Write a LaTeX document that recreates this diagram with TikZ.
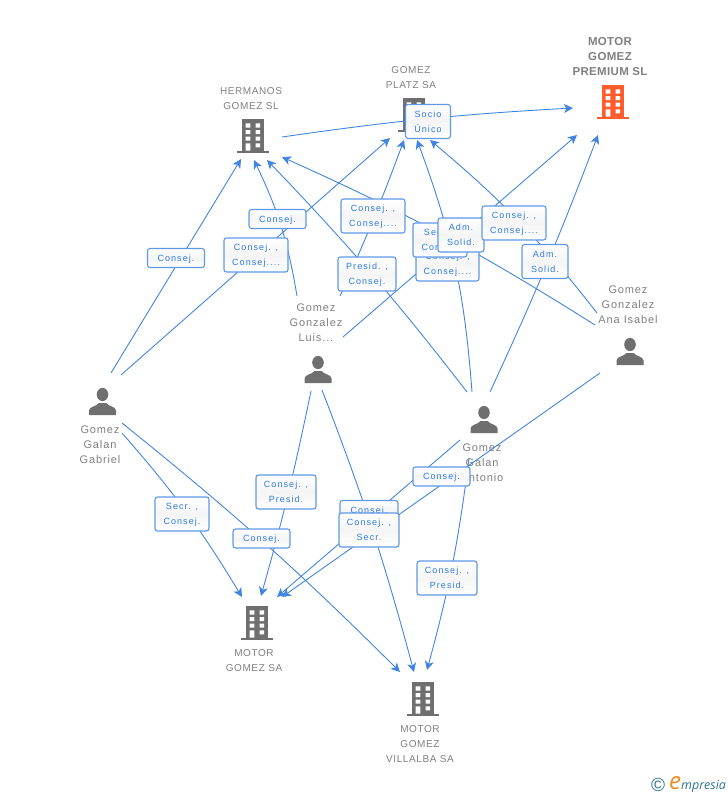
\documentclass[tikz,border=0pt]{standalone}
\usepackage{fontspec}
\setmainfont{Liberation Sans}
\newfontfamily\lblfont[LetterSpace=12]{Liberation Sans}
\newfontfamily\namefont[LetterSpace=8]{Liberation Sans}
\newfontfamily\upfont[LetterSpace=6]{Liberation Sans}
\newfontfamily\upbold[LetterSpace=3]{Liberation Sans Bold}
\newfontfamily\logofont{Open Sans Italic}
\usetikzlibrary{arrows.meta}
\definecolor{edgeblue}{HTML}{4285E0}
\definecolor{boxblue}{HTML}{5E98E8}
\definecolor{lbltext}{HTML}{2E7BE6}
\definecolor{nametext}{HTML}{7F7F7F}
\definecolor{icongray}{HTML}{6F6F6F}
\definecolor{iconorange}{HTML}{FF5C2E}
\definecolor{logoteal}{HTML}{2F7390}
\definecolor{logoorange}{HTML}{F28A1E}
\tikzset{
  x=1pt,y=-1pt,
  edge/.style={draw=edgeblue,line width=0.9pt,-{Stealth[length=9pt,width=9pt,inset=2.5pt]}},
  lbl/.style={draw=boxblue,line width=1.1pt,rounded corners=2.5pt,top color=white,bottom color=white,middle color=white!96!black,
    font=\lblfont\fontsize{9}{15}\selectfont,text=lbltext,align=center,inner sep=0pt,text depth=0pt,minimum height=#1},
  lbl/.default=34pt,
  entity/.style={inner sep=0pt,minimum size=2pt},
  nm/.style={font=\namefont\fontsize{11}{15}\selectfont,text=nametext,align=center,inner sep=0pt},
  co/.style={font=\upfont\fontsize{10}{15}\selectfont,text=nametext,align=center,inner sep=0pt},
  pics/building/.style={code={
    \fill[#1] (-11,-17) rectangle (11,14.5);
    \fill[#1] (-16,14.5) rectangle (16,17);
    \fill[white] (-7.3,-12.7) rectangle (-2.7,-8.3) (2.7,-12.7) rectangle (7.1,-8.3)
      (-7.3,-6) rectangle (-2.7,-2) (2.7,-6) rectangle (7.1,-2)
      (-7.3,0.7) rectangle (-2.7,4.7) (2.7,0.7) rectangle (7.1,4.7)
      (-7.3,7.3) rectangle (-2.7,14.5) (2.7,7.3) rectangle (7.1,11.3);
  }},
  pics/person/.style={code={
    \fill[icongray] (0,-7) ellipse (5.8 and 6.6);
    \fill[icongray] (-13.5,13.5) -- (-13.5,9) .. controls (-13.5,5) and (-6,5) .. (-3.5,1.5) -- (3.5,1.5)
      .. controls (6,5) and (13.5,5) .. (13.5,9) -- (13.5,13.5) -- cycle;
  }},
}
\begin{document}
\begin{tikzpicture}
\useasboundingbox (0,0) rectangle (728,795);
% entities
\node[entity] (hermanos) at (253,136) {};
\node[entity] (platz) at (414,115) {};
\node[entity] (premium) at (613,102) {};
\node[entity] (mgs) at (257,623) {};
\node[entity] (villalba) at (423,699) {};
\node[entity] (gabriel) at (102.5,401.5) {};
\node[entity] (luis) at (318,369.5) {};
\node[entity] (ana) at (630,351.5) {};
\node[entity] (antonio) at (484,419.5) {};
\pic at (hermanos) {building=icongray};
\pic at (platz) {building=icongray};
\pic at (premium) {building=iconorange};
\pic at (mgs) {building=icongray};
\pic at (villalba) {building=icongray};
\pic at (gabriel) {person};
\pic at (luis) {person};
\pic at (ana) {person};
\pic at (antonio) {person};
% names
\node[co] (thermanos) at (251,98.5) {HERMANOS\\GOMEZ SL};
\node[co] (tplatz) at (411,77.5) {GOMEZ\\PLATZ SA};
\node[font=\upbold\fontsize{11.5}{15}\selectfont,text=nametext,align=center,inner sep=0pt] (tpremium) at (610,57) {MOTOR\\GOMEZ\\PREMIUM SL};
\node[co] (tmgs) at (254,660.5) {MOTOR\\GOMEZ SA};
\node[co] (tvillalba) at (420,744) {MOTOR\\GOMEZ\\VILLALBA SA};
\node[nm] (tgabriel) at (100,445) {Gomez\\Galan\\Gabriel};
\node[nm] (tluis) at (316,323) {Gomez\\Gonzalez\\Luis...};
\node[nm] (tana) at (628,305) {Gomez\\Gonzalez\\Ana Isabel};
\node[nm] (tantonio) at (482,463) {Gomez\\Galan\\Antonio};
% connectors
\draw[edge] ([shift={(8.5,-28.5)}]gabriel.center) -- ([shift={(-12,23)}]hermanos.center);
\draw[edge] ([shift={(18.5,-26.5)}]gabriel.center) -- ([shift={(-24,23)}]platz.center);
\draw[edge] ([shift={(-21,-73.5)}]luis.center) to[bend right=8] ([shift={(1,24)}]hermanos.center);
\draw[edge] ([shift={(-17,-27.5)}]antonio.center) to[bend right=3] ([shift={(14,24)}]hermanos.center);
\draw[edge] ([shift={(-35,-26.5)}]ana.center) to[bend right=4] ([shift={(29,21)}]hermanos.center);
\draw[edge] ([shift={(22,-73.5)}]luis.center) to[bend right=2] ([shift={(-10,25)}]platz.center);
\draw[edge] ([shift={(-12,-27.5)}]antonio.center) to[bend right=8] ([shift={(3,25)}]platz.center);
\draw[edge] ([shift={(-33,-38.5)}]ana.center) to[bend right=6] ([shift={(16,25)}]platz.center);
\draw[edge] ([shift={(29,1)}]hermanos.center) to[bend left=2.5] ([shift={(-40,6)}]premium.center);
\draw[edge] ([shift={(25,-32.5)}]luis.center) -- ([shift={(-36,33)}]premium.center);
\draw[edge] ([shift={(6,-27.5)}]antonio.center) to[bend right=2] ([shift={(-15,33)}]premium.center);
\draw[edge] ([shift={(19.5,31.5)}]gabriel.center) to[bend left=5] ([shift={(-15,-26)}]mgs.center);
\draw[edge] ([shift={(19.5,21.5)}]gabriel.center) to[bend left=3] ([shift={(-23,-27)}]villalba.center);
\draw[edge] ([shift={(-7,21.5)}]luis.center) to[bend left=2] ([shift={(4,-27)}]mgs.center);
\draw[edge] ([shift={(-24,20.5)}]antonio.center) -- ([shift={(20,-26)}]mgs.center);
\draw[edge] ([shift={(-30,21.5)}]ana.center) -- ([shift={(25,-26)}]mgs.center);
\draw[edge] ([shift={(4,20.5)}]luis.center) to[bend left=3] ([shift={(-9,-27)}]villalba.center);
\draw[edge] ([shift={(-15,38.5)}]antonio.center) to[bend left=4] ([shift={(4,-29)}]villalba.center);
% connector labels
\node[lbl=19pt,minimum width=57pt] (la) at (176,258) {Consej.};
\node[lbl,minimum width=64pt] (lb) at (256,255) {Consej. ,\\Consej....};
\node[lbl=19pt,minimum width=57pt] (lc) at (277.5,219) {Consej.};
\node[lbl,minimum width=64pt] (ld) at (373,216) {Consej. ,\\Consej....};
\node[lbl,minimum width=58pt] (le) at (367,274) {Presid. ,\\Consej.};
\node[lbl,minimum width=63pt] (lf) at (447.5,264) {Consej. ,\\Consej....};
\node[lbl,minimum width=54pt] (lg) at (440,240) {Secr. ,\\Consej.};
\node[lbl,minimum width=46pt] (lh) at (461,235) {Adm. \\Solid.};
\node[lbl,minimum width=64pt] (li) at (514,223) {Consej. ,\\Consej....};
\node[lbl,minimum width=46pt] (lj) at (545,261.5) {Adm. \\Solid.};
\node[lbl,minimum width=45pt] (lk) at (428,121.5) {Socio\\Único};
\node[lbl,minimum width=60pt] (ll) at (286,492) {Consej. ,\\Presid.};
\node[lbl=19pt,minimum width=57pt] (lm) at (261.5,538.5) {Consej.};
\node[lbl,minimum width=54pt] (ln) at (182,514) {Secr. ,\\Consej.};
\node[lbl=19pt,minimum width=58pt] (lo) at (369,510) {Consej.};
\node[lbl,minimum width=60pt] (lp) at (369,530) {Consej. ,\\Secr.};
\node[lbl=19pt,minimum width=57pt] (lq) at (441.5,476.5) {Consej.};
\node[lbl,minimum width=60pt] (lr) at (447,578) {Consej. ,\\Presid.};
% logo
\node[inner sep=0pt,text=logoteal,font=\fontsize{19}{19}\selectfont] (copy) at (658,785) {©};
\node[inner sep=0pt,anchor=base west,text=logoteal,font=\logofont\fontsize{12.5}{13}\selectfont] (logo) at (669,789) {{\color{logoorange}\fontsize{24}{24}\selectfont e}mpresia};
\end{tikzpicture}
\end{document}
